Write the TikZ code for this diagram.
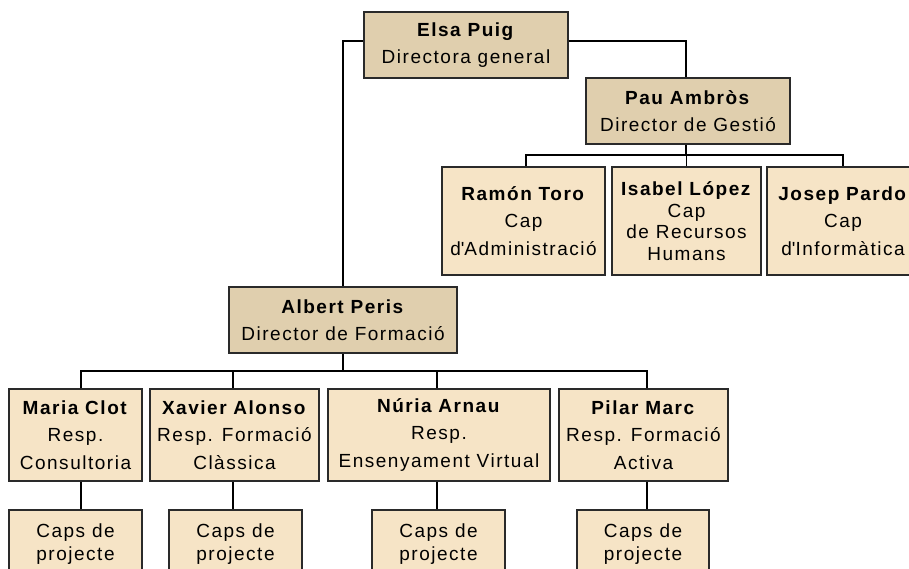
\documentclass[tikz,border=0pt]{standalone}
\usepackage{fontspec}
\setmainfont{Liberation Sans}[LetterSpace=8]
\usetikzlibrary{calc}
\definecolor{tandark}{HTML}{E0CFAE}
\definecolor{tanlight}{HTML}{F6E4C6}
\definecolor{boxline}{HTML}{2A2A2A}
\tikzset{
  box/.style={draw=boxline, line width=1.6pt, inner sep=0pt, align=center,
    font=\fontsize{19}{27.5}\selectfont},
  dark/.style={box, fill=tandark},
  light/.style={box, fill=tanlight},
  link/.style={line width=1.3pt, draw=black}
}
\begin{document}
\begin{tikzpicture}[x=1pt,y=-1pt]
\useasboundingbox (0,0) rectangle (909,569);
\fill[white] (0,0) rectangle (909,569);
\clip (0,0) rectangle (909,569);
% level 1-2
\node[dark, minimum width=204, minimum height=66] (elsa) at (466,45) {\textbf{Elsa Puig}\\Directora general};
\node[dark, minimum width=204, minimum height=66] (pau) at (688,111) {\textbf{Pau Ambròs}\\Director de Gestió};
\node[dark, minimum width=228, minimum height=66] (albert) at (343,320) {\textbf{Albert Peris}\\Director de Formació};
% level 3
\node[light, minimum width=163, minimum height=108] (ramon) at (523.5,221) {\textbf{Ramón Toro}\\Cap\\d\textquotesingle Administració};
\node[light, minimum width=149, minimum height=108, font=\fontsize{19}{21.7}\selectfont] (isabel) at (686.5,221) {\textbf{Isabel López}\\Cap\\de Recursos\\Humans};
\node[light, minimum width=152, minimum height=108] (josep) at (843,221) {\textbf{Josep Pardo}\\Cap\\d\textquotesingle Informàtica};
% level 4
\node[light, minimum width=133, minimum height=92] (maria) at (75.5,435) {\textbf{Maria Clot}\\Resp.\\Consultoria};
\node[light, minimum width=169, minimum height=92] (xavier) at (234.5,435) {\textbf{Xavier Alonso}\\Resp. Formació\\Clàssica};
\node[light, minimum width=222, minimum height=92] (nuria) at (439,435) {\textbf{Núria Arnau}\\Resp.\\Ensenyament Virtual};
\node[light, minimum width=169, minimum height=92] (pilar) at (643.5,435) {\textbf{Pilar Marc}\\Resp. Formació\\Activa};
% level 5
\node[light, minimum width=133, minimum height=68, font=\fontsize{19}{23.5}\selectfont] (mcaps) at (75.5,544) {Caps de\\projecte};
\node[light, minimum width=133, minimum height=68, font=\fontsize{19}{23.5}\selectfont] (xcaps) at (235.5,544) {Caps de\\projecte};
\node[light, minimum width=133, minimum height=68, font=\fontsize{19}{23.5}\selectfont] (ncaps) at (438.5,544) {Caps de\\projecte};
\node[light, minimum width=132, minimum height=68, font=\fontsize{19}{23.5}\selectfont] (pcaps) at (643,544) {Caps de\\projecte};
% connectors
\draw[link] ($(elsa.west)+(0,-4)$) -| (albert.north);
\draw[link] ($(elsa.east)+(0,-4)$) -| ([xshift=-2pt]pau.north);
\coordinate (gbar) at (686,155);
\draw[link] ([xshift=-2pt]pau.south) -- (gbar);
\draw[link] ([xshift=2.5pt]ramon.north) |- (gbar) -| (josep.north);
\draw[link] (isabel.north) -- ++(0,-12);
\coordinate (fbar) at (343,371);
\draw[link] (albert.south) -- (fbar);
\draw[link] ([xshift=5.5pt]maria.north) |- (fbar) -| ([xshift=3.5pt]pilar.north);
\draw[link] ([xshift=-1.5pt]xavier.north) -- ++(0,-18);
\draw[link] ([xshift=-2pt]nuria.north) -- ++(0,-18);
\draw[link] ([xshift=5.5pt]maria.south) -- ([xshift=5.5pt]mcaps.north);
\draw[link] ([xshift=-1.5pt]xavier.south) -- ([xshift=-2.5pt]xcaps.north);
\draw[link] ([xshift=-2pt]nuria.south) -- ([xshift=-1.5pt]ncaps.north);
\draw[link] ([xshift=3.5pt]pilar.south) -- ([xshift=4pt]pcaps.north);
\end{tikzpicture}
\end{document}
